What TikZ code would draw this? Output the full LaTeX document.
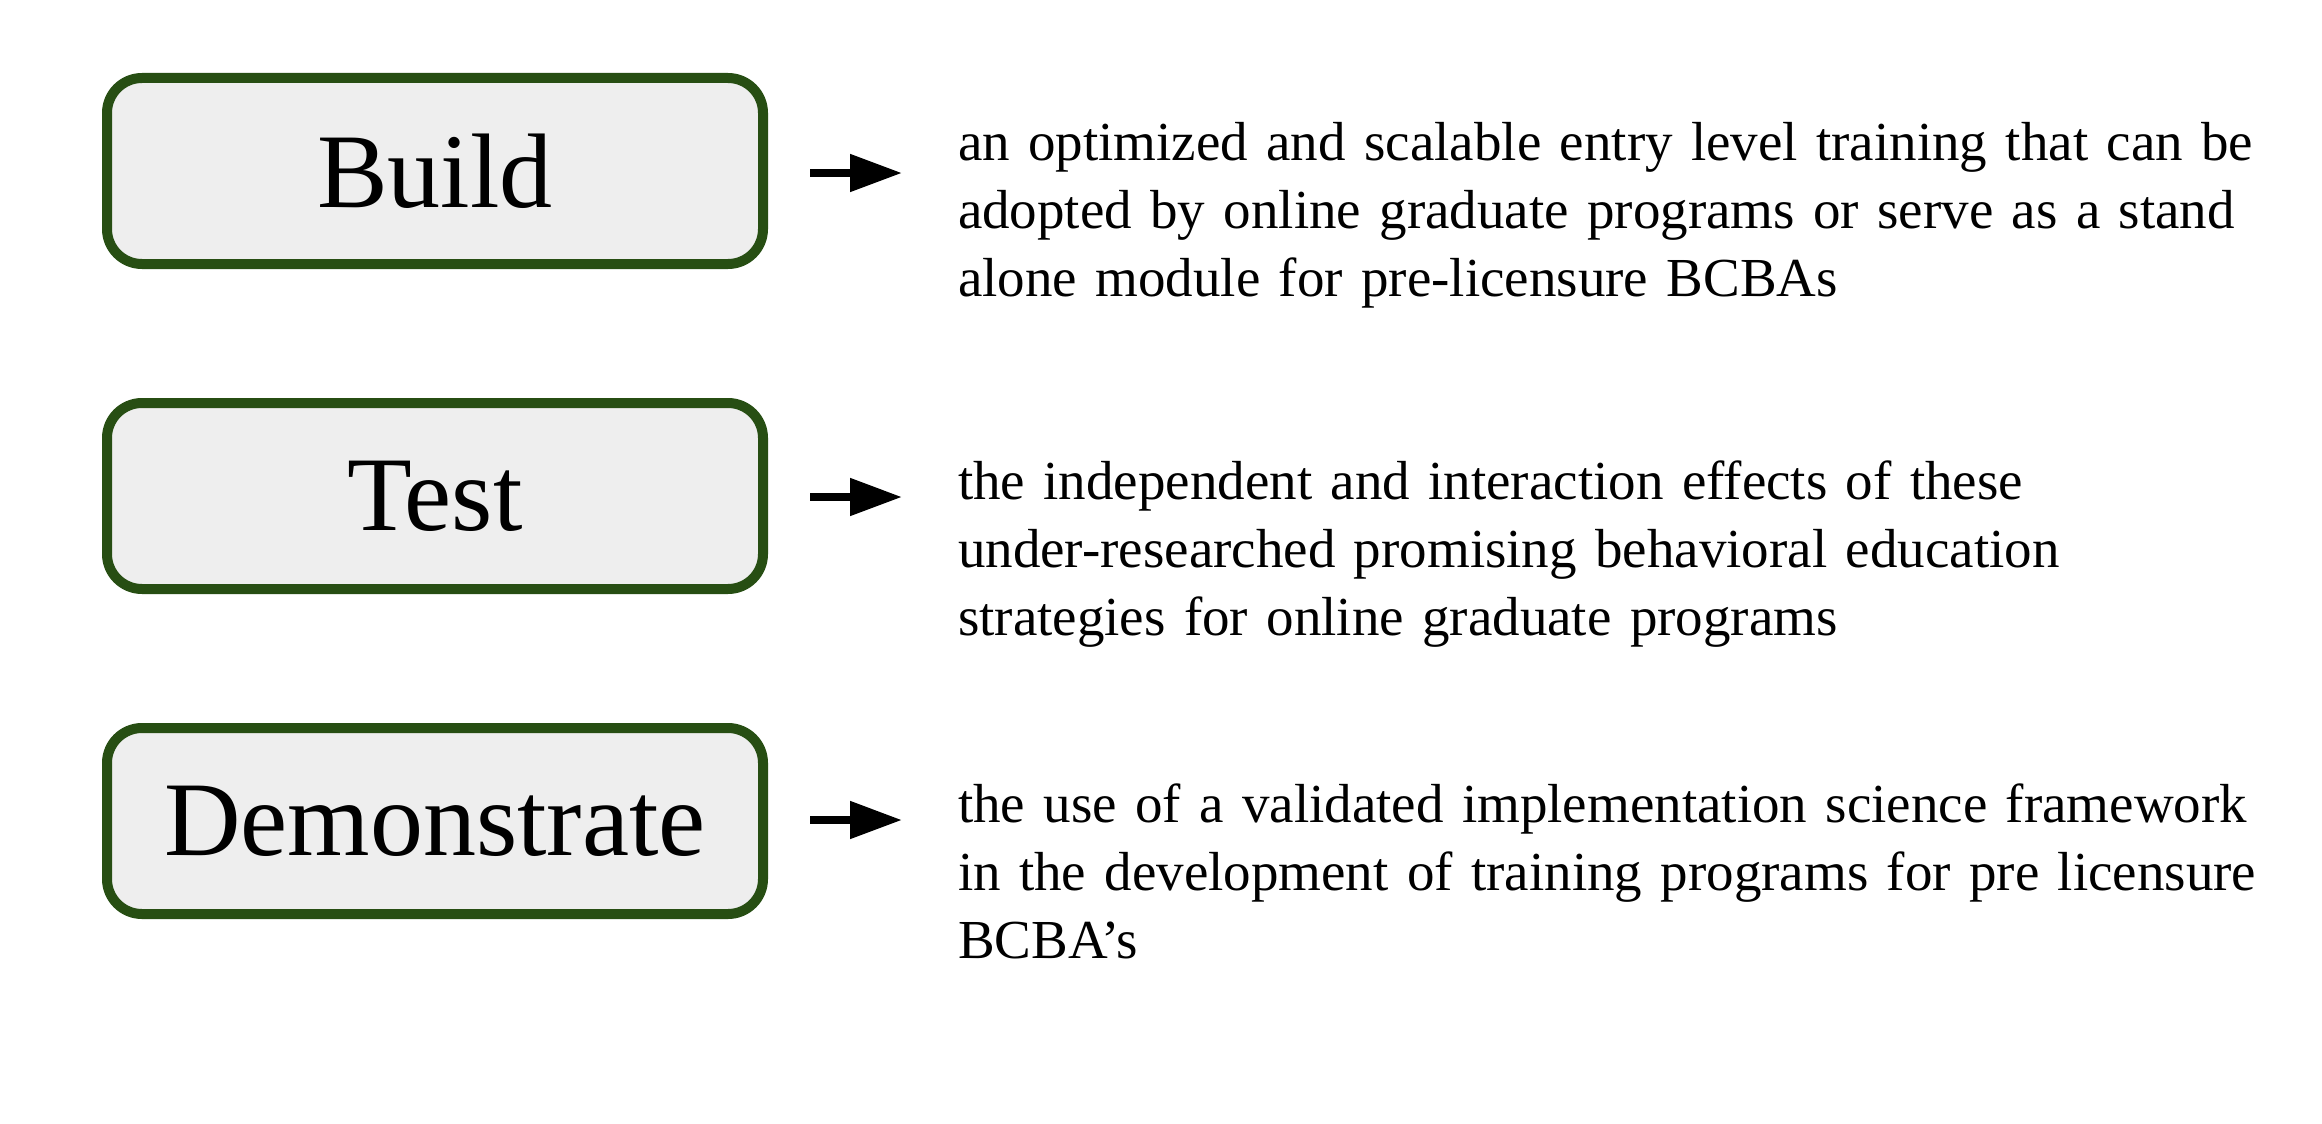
\documentclass[tikz,border=0pt]{standalone}
\usepackage{fontspec}
\setmainfont{Liberation Serif}
\usetikzlibrary{arrows.meta}
\definecolor{boxgreen}{HTML}{274E13}
\definecolor{boxfill}{HTML}{EEEEEE}
\begin{document}
\begin{tikzpicture}[x=1pt,y=-1pt,
  keybox/.style={draw=boxgreen, fill=boxfill, line width=10pt, rounded corners=35pt,
    minimum width=656pt, minimum height=186pt, inner sep=0pt, outer sep=0pt,
    font=\fontsize{106}{120}\selectfont},
  desc/.style={anchor=north west, inner sep=0pt, outer sep=0pt, text width=1360pt, align=left,
    font=\fontsize{55}{68}\selectfont},
  pointer/.style={line width=8pt, -{Triangle[length=52pt,width=36pt]}}]
\fill[white] (0,0) rectangle (2322,1124);
\useasboundingbox (0,0) rectangle (2322,1124);

\node[keybox] (build) at (435,171) {Build};
\node[keybox] (test) at (435,496) {Test};
\node[keybox] (demo) at (435,821) {Demonstrate};

\coordinate (a1s) at (810,173);
\coordinate (a1e) at (902,173);
\coordinate (a2s) at (810,497);
\coordinate (a2e) at (902,497);
\coordinate (a3s) at (810,820);
\coordinate (a3e) at (902,820);

\node[desc] (t1) at (958,112.4) {\strut an optimized and scalable entry level training that can be\\adopted by online graduate programs or serve as a stand\\alone module for pre-licensure BCBAs};
\node[desc] (t2) at (958,451.4) {\strut the independent and interaction effects of these\\under-researched promising behavioral education\\strategies for online graduate programs};
\node[desc] (t3) at (958,774.4) {\strut the use of a validated implementation science framework\\in the development of training programs for pre licensure\\BCBA’s};

\draw[pointer] (a1s) -- (a1e);
\draw[pointer] (a2s) -- (a2e);
\draw[pointer] (a3s) -- (a3e);
\end{tikzpicture}
\end{document}
